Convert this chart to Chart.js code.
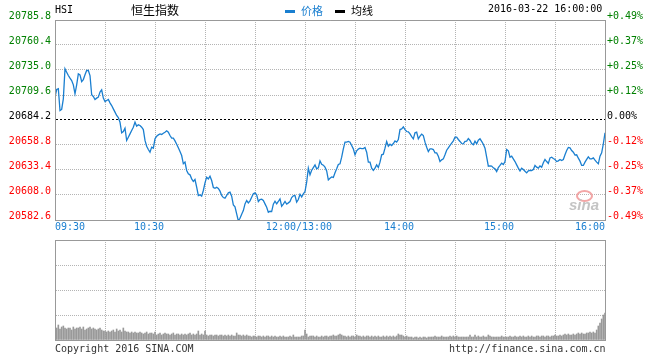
<!DOCTYPE html>
<html>
<head>
<meta charset="utf-8">
<script src="https://cdn.jsdelivr.net/npm/chart.js@4.4.1/dist/chart.umd.min.js"></script>
<style>
  body { margin: 0; background: #fff; }
  #caixa { position: relative; width: 660px; height: 360px; font-family: "DejaVu Sans Mono", monospace; font-size: 10px; color: #000; }
  #caixa canvas { position: absolute; left: 0; top: 0; }
  .t { position: absolute; white-space: nowrap; line-height: 12px; }
  .cn { font-family: "Noto Sans CJK SC", sans-serif; }
  .traco { position: absolute; width: 10px; height: 3px; }
</style>
</head>
<body>
<div id="caixa">
  <canvas id="grafPreco" width="660" height="360"></canvas>
  <canvas id="grafVolume" width="660" height="360"></canvas>

  <div class="t" style="left:55px;top:4px">HSI</div>
  <div class="t cn" style="left:131px;top:2px;font-size:12px;line-height:16px">恒生指数</div>
  <div class="traco" style="left:285px;top:10px;background:#1a7fd0"></div>
  <div class="t cn" style="left:301px;top:3px;font-size:11px;line-height:14px;color:#1a7fd0">价格</div>
  <div class="traco" style="left:335px;top:10px;background:#000"></div>
  <div class="t cn" style="left:351px;top:3px;font-size:11px;line-height:14px">均线</div>
  <div class="t" style="left:488px;top:3px">2016-03-22 16:00:00</div>

  <div class="t" style="left:576px;top:190px;width:13px;height:8px;border:2px solid #f3a6a6;border-radius:50%;line-height:0"></div>
  <div class="t" style="left:569px;top:197px;font:italic bold 15px 'Liberation Sans';color:#c4c4c4;line-height:16px">sina</div>

  <div class="t" style="left:55px;top:343px;color:#333">Copyright 2016 SINA.COM</div>
  <div class="t" style="left:449px;top:343px;color:#333">http://finance.sina.com.cn</div>
</div>

<script>
// HSI 2016-03-22, um valor por minuto (09:30 ... 12:00 = 13:00 ... 16:00)
const precos = [
  20707.4, 20715.2, 20715.9, 20693.8, 20694.9, 20705.7, 20736.2, 20732.8, 20729.4, 20726.7,
  20724.3, 20719.9, 20710.8, 20719.9, 20731.1, 20730.1, 20723.3, 20725.3, 20730.1, 20734.5,
  20734.5, 20729.4, 20709.8, 20708.1, 20705.0, 20706.4, 20707.4, 20712.5, 20714.8, 20706.4,
  20703.0, 20704.0, 20705.0, 20701.6, 20698.9, 20695.5, 20692.2, 20688.8, 20686.7, 20682.0,
  20671.2, 20672.5, 20675.9, 20663.4, 20666.7, 20670.1, 20673.5, 20676.9, 20682.0, 20677.9,
  20679.3, 20678.6, 20676.9, 20674.5, 20663.4, 20657.6, 20654.2, 20651.5, 20656.6, 20655.6,
  20665.1, 20667.8, 20669.1, 20670.1, 20669.5, 20670.8, 20671.8, 20673.2, 20671.8, 20668.4,
  20665.7, 20665.7, 20663.0, 20659.6, 20655.9, 20652.2, 20648.1, 20639.7, 20641.4, 20632.9,
  20629.5, 20628.5, 20624.4, 20621.7, 20623.7, 20615.9, 20607.5, 20608.2, 20606.8, 20612.6,
  20620.4, 20626.1, 20624.4, 20627.1, 20622.7, 20615.6, 20614.9, 20615.9, 20614.6, 20611.9,
  20607.5, 20605.4, 20604.8, 20607.5, 20610.2, 20610.9, 20606.8, 20598.0, 20596.0, 20588.9,
  20581.7, 20584.4, 20588.5, 20592.2, 20599.0, 20602.4, 20600.0, 20602.1, 20605.8, 20609.2,
  20610.2, 20608.2, 20601.4, 20603.4, 20603.8, 20602.4, 20599.0, 20595.6, 20590.5, 20591.5,
  20591.2, 20598.7, 20601.7, 20599.0, 20601.4, 20604.1, 20596.6, 20598.7, 20601.4, 20598.7,
  20600.0, 20601.4, 20605.4, 20607.1, 20607.5, 20600.7, 20603.4, 20608.8, 20606.1, 20609.2,
  20611.5, 20621.0, 20635.3, 20628.5, 20633.2, 20635.9, 20638.6, 20634.6, 20635.6, 20642.7,
  20639.3, 20638.3, 20636.3, 20632.5, 20623.4, 20625.1, 20626.4, 20625.8, 20630.5, 20634.6,
  20639.0, 20639.7, 20646.4, 20654.9, 20661.7, 20661.7, 20662.4, 20661.7, 20658.3, 20654.9,
  20648.8, 20652.9, 20654.6, 20655.6, 20655.2, 20655.2, 20656.3, 20651.5, 20641.4, 20641.4,
  20635.3, 20632.9, 20635.3, 20638.6, 20635.9, 20641.4, 20648.8, 20649.5, 20655.6, 20662.4,
  20657.6, 20659.6, 20658.3, 20660.3, 20663.0, 20661.7, 20664.4, 20674.5, 20675.2, 20677.3,
  20674.5, 20672.5, 20672.2, 20670.1, 20667.4, 20665.1, 20671.2, 20671.8, 20665.1, 20667.8,
  20669.8, 20668.4, 20661.7, 20656.6, 20652.2, 20654.9, 20654.9, 20654.2, 20650.8, 20650.8,
  20647.4, 20642.0, 20643.7, 20644.7, 20648.8, 20653.5, 20655.9, 20658.3, 20660.7, 20663.0,
  20666.7, 20666.7, 20664.4, 20662.4, 20660.3, 20660.0, 20662.4, 20662.7, 20665.4, 20663.4,
  20660.3, 20659.0, 20662.7, 20660.0, 20663.7, 20665.1, 20662.4, 20659.6, 20655.6, 20646.4,
  20637.3, 20637.6, 20637.3, 20635.6, 20634.6, 20631.9, 20635.9, 20638.0, 20640.3, 20639.0,
  20642.0, 20654.2, 20652.9, 20646.4, 20647.4, 20644.7, 20642.0, 20638.6, 20635.3, 20632.5,
  20635.3, 20633.9, 20632.2, 20630.5, 20632.5, 20632.9, 20632.9, 20633.9, 20638.0, 20636.3,
  20635.3, 20637.6, 20636.3, 20640.7, 20644.1, 20642.0, 20640.0, 20645.7, 20646.4, 20645.1,
  20644.1, 20642.0, 20642.7, 20644.1, 20643.0, 20644.1, 20648.8, 20653.2, 20656.3, 20655.9,
  20653.2, 20651.5, 20648.5, 20648.8, 20645.4, 20642.4, 20638.0, 20638.0, 20641.4, 20644.1,
  20646.8, 20644.7, 20644.7, 20645.7, 20643.4, 20641.4, 20639.7, 20647.4, 20650.8, 20660.0,
  20671.2
];

// volume por minuto (escala relativa, topo do painel = 100)
const volumes = [
  10, 12, 15, 11, 13, 14, 12, 11, 12, 12,
  10, 13, 11, 12, 12, 13, 11, 13, 10, 11,
  12, 13, 11, 12, 11, 10, 11, 12, 10, 9,
  9, 8, 9, 8, 9, 10, 8, 11, 9, 10,
  8, 12, 9, 8, 8, 7, 8, 7, 8, 7,
  7, 8, 7, 6, 7, 8, 6, 7, 7, 6,
  8, 5, 6, 7, 5, 6, 7, 6, 6, 5,
  6, 7, 5, 6, 6, 5, 6, 5, 6, 5,
  6, 7, 5, 6, 5, 6, 9, 5, 6, 5,
  9, 5, 4, 5, 5, 4, 5, 5, 4, 5,
  5, 4, 5, 4, 5, 4, 5, 4, 4, 7,
  5, 5, 4, 5, 4, 5, 4, 4, 3, 4,
  4, 3, 4, 4, 3, 4, 3, 4, 4, 3,
  4, 3, 4, 3, 3, 4, 3, 4, 3, 3,
  3, 4, 3, 5, 3, 3, 3, 3, 4, 4,
  10, 6, 3, 4, 4, 4, 3, 4, 3, 3,
  4, 3, 4, 4, 3, 4, 4, 5, 4, 4,
  5, 6, 5, 4, 4, 3, 4, 3, 4, 4,
  3, 5, 4, 4, 3, 4, 3, 4, 4, 3,
  4, 3, 4, 3, 4, 3, 3, 4, 3, 4,
  3, 4, 3, 4, 3, 4, 6, 5, 5, 4,
  3, 4, 3, 3, 3, 2, 3, 3, 2, 3,
  2, 3, 3, 2, 3, 3, 3, 3, 4, 3,
  3, 3, 4, 3, 3, 3, 3, 4, 3, 4,
  3, 4, 3, 3, 3, 3, 3, 3, 3, 5,
  3, 3, 5, 3, 4, 3, 3, 4, 3, 3,
  5, 4, 3, 3, 3, 3, 3, 3, 4, 3,
  3, 3, 3, 4, 3, 3, 4, 3, 3, 4,
  3, 4, 3, 3, 4, 3, 4, 3, 3, 4,
  4, 3, 4, 4, 3, 4, 4, 3, 4, 4,
  5, 4, 4, 5, 4, 5, 6, 5, 6, 5,
  5, 6, 5, 6, 7, 6, 7, 6, 6, 7,
  7, 8, 7, 8, 7, 10, 14, 17, 21, 25,
  27
];

const fechamentoAnterior = 20684.2;
const ticksPreco = [20582.6, 20608.0, 20633.4, 20658.8, 20684.2, 20709.6, 20735.0, 20760.4, 20785.8];
const rotulosPct = ["-0.49%", "-0.37%", "-0.25%", "-0.12%", "0.00%", "+0.12%", "+0.25%", "+0.37%", "+0.49%"];
const gradeMinutos = [0, 30, 60, 90, 120, 150, 180, 210, 240, 270, 300, 330];
const horaMinutos = [0, 60, 150, 210, 270, 330];
const horaRotulos = ["09:30", "10:30", "12:00/13:00", "14:00", "15:00", "16:00"];
const ticksVolume = [0, 25, 50, 75, 100];

const azul = "#1a7fd0";
const corMoldura = "#999999";
const corGrade = "#b4b4b4";
const fonteMono = { family: "DejaVu Sans Mono", size: 10 };

function corDoValor(v) {
  if (v > fechamentoAnterior) return "#008000";
  if (v < fechamentoAnterior) return "#ff0000";
  return "#000000";
}

function rotuloHora(v) {
  const i = horaMinutos.indexOf(v);
  if (i < 0) return "";
  // os rotulos do meio ficam um pouco a esquerda da linha, como no original
  if (i > 0 && i < horaMinutos.length - 1) return horaRotulos[i] + "  ";
  return horaRotulos[i];
}

function soMoldura(pos, tamanho) {
  return {
    type: "linear",
    position: pos,
    min: 0,
    max: 1,
    grid: { display: false },
    ticks: { display: false },
    border: { color: corMoldura, z: 1 },
    afterFit: (e) => {
      if (pos === "top") e.height = tamanho;
      else e.width = tamanho;
    },
  };
}

const linhaPontilhada = (ctx) =>
  ctx.tick && ctx.tick.value === fechamentoAnterior ? [2, 2] : [1, 1];

new Chart(document.getElementById("grafPreco"), {
  type: "line",
  data: {
    datasets: [
      {
        label: "价格",
        data: precos.map((p, i) => ({ x: i, y: p })),
        borderColor: azul,
        borderWidth: 1.3,
        pointRadius: 0,
        tension: 0,
      },
    ],
  },
  options: {
    responsive: false,
    animation: false,
    layout: { padding: { top: 20 } },
    plugins: { legend: { display: false }, tooltip: { enabled: false } },
    scales: {
      x: {
        type: "linear",
        min: 0,
        max: 330,
        afterBuildTicks: (e) => (e.ticks = gradeMinutos.map((v) => ({ value: v }))),
        afterFit: (e) => (e.height = 140),
        grid: { color: corGrade, drawTicks: false },
        border: { color: corMoldura, dash: [1, 1], z: 1 },
        ticks: {
          align: "inner",
          autoSkip: false,
          maxRotation: 0,
          padding: 1,
          color: azul,
          font: fonteMono,
          callback: (v) => rotuloHora(v),
        },
      },
      x2: soMoldura("top", 0),
      y: {
        position: "left",
        min: ticksPreco[0],
        max: ticksPreco[ticksPreco.length - 1],
        afterBuildTicks: (e) => (e.ticks = ticksPreco.map((v) => ({ value: v }))),
        afterFit: (e) => (e.width = 55),
        grid: {
          drawTicks: false,
          color: (ctx) => (ctx.tick && ctx.tick.value === fechamentoAnterior ? "#000" : corGrade),
        },
        border: { color: corMoldura, dash: linhaPontilhada, z: 1 },
        ticks: {
          padding: 4,
          labelOffset: -4,
          font: fonteMono,
          color: (ctx) => corDoValor(ctx.tick.value),
          callback: (v) => v.toFixed(1),
        },
      },
      y2: {
        position: "right",
        min: ticksPreco[0],
        max: ticksPreco[ticksPreco.length - 1],
        afterBuildTicks: (e) => (e.ticks = ticksPreco.map((v) => ({ value: v }))),
        afterFit: (e) => (e.width = 55),
        grid: { display: false, drawTicks: false },
        border: { color: corMoldura, z: 1 },
        ticks: {
          padding: 2,
          labelOffset: -4,
          font: fonteMono,
          color: (ctx) => corDoValor(ctx.tick.value),
          callback: (v, i) => rotulosPct[i],
        },
      },
    },
  },
});

new Chart(document.getElementById("grafVolume"), {
  type: "bar",
  data: {
    datasets: [
      {
        label: "成交量",
        data: volumes.map((v, i) => ({ x: i, y: v })),
        backgroundColor: "#999999",
        barThickness: 1,
      },
    ],
  },
  options: {
    responsive: false,
    animation: false,
    layout: { padding: { top: 240 } },
    plugins: { legend: { display: false }, tooltip: { enabled: false } },
    scales: {
      x: {
        type: "linear",
        min: 0,
        max: 330,
        offset: false,
        afterBuildTicks: (e) => (e.ticks = gradeMinutos.map((v) => ({ value: v }))),
        afterFit: (e) => (e.height = 20),
        grid: { color: corGrade, drawTicks: false, offset: false },
        border: { color: corMoldura, dash: [1, 1], z: 1 },
        ticks: { display: false },
      },
      x2: soMoldura("top", 0),
      y: {
        min: 0,
        max: 100,
        afterBuildTicks: (e) => (e.ticks = ticksVolume.map((v) => ({ value: v }))),
        afterFit: (e) => (e.width = 55),
        grid: { color: corGrade, drawTicks: false },
        border: { color: corMoldura, dash: [1, 1], z: 1 },
        ticks: { display: false },
      },
      y2: soMoldura("right", 55),
    },
  },
});
</script>
</body>
</html>
